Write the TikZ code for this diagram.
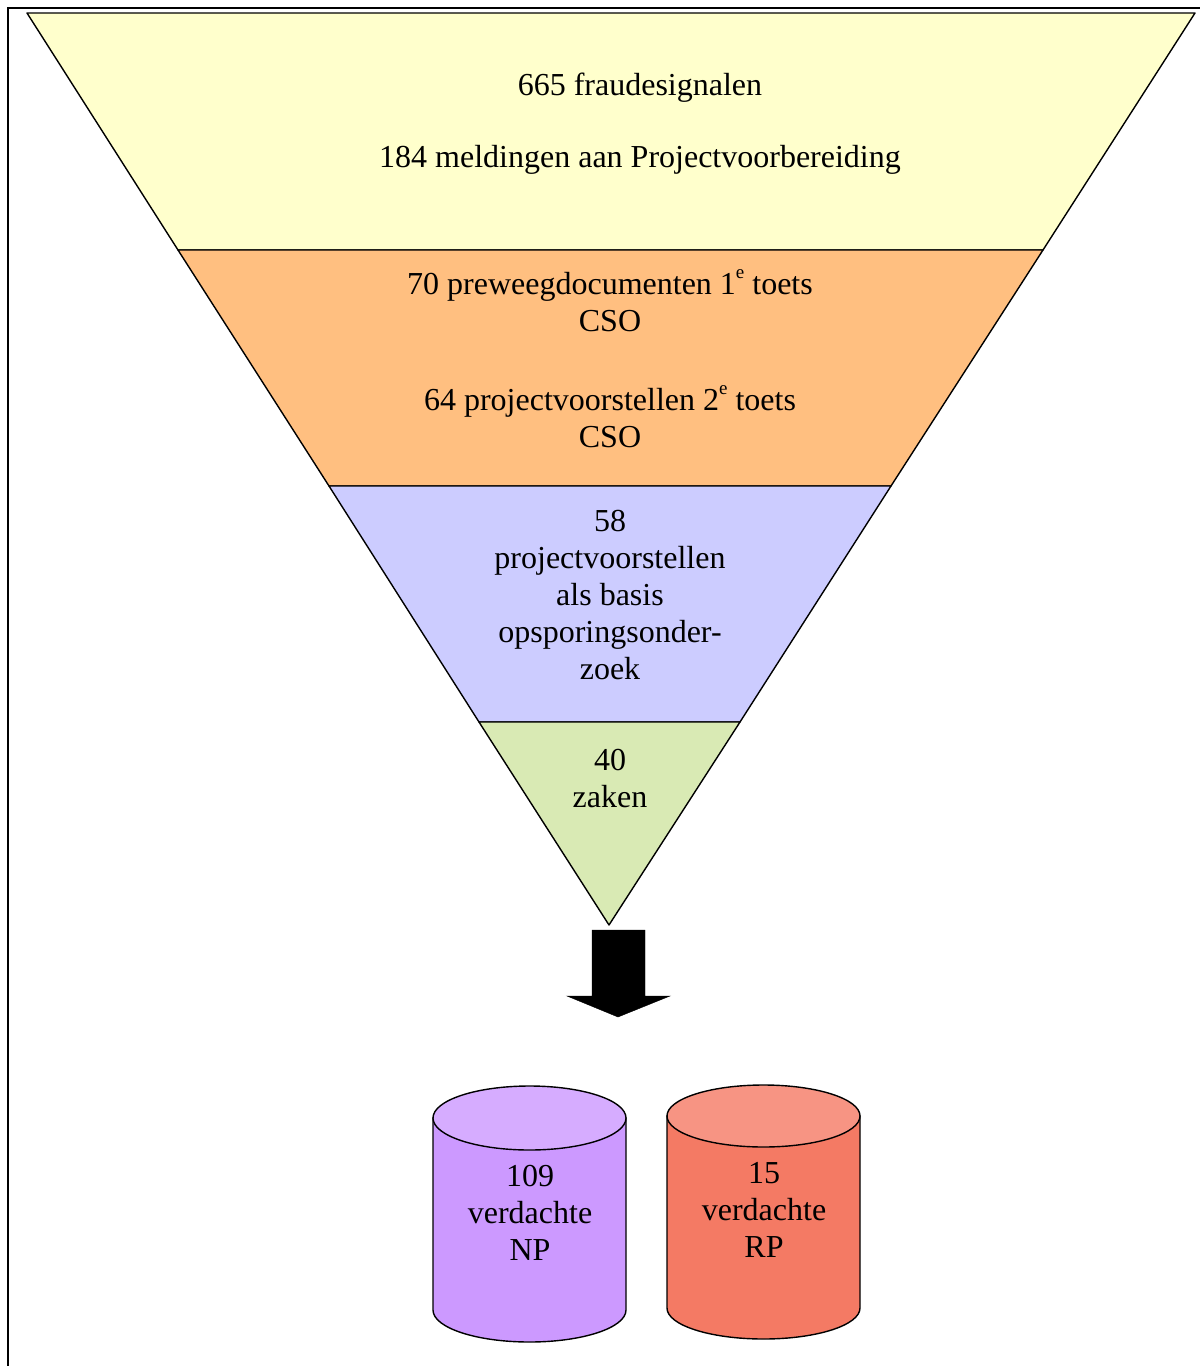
\documentclass[tikz,border=0pt]{standalone}
\usepackage{fontspec}
\setmainfont{Liberation Serif}
\usepackage{tikz}
\usetikzlibrary{positioning}
\definecolor{bandyellow}{HTML}{FFFFCC}
\definecolor{bandorange}{HTML}{FFBF80}
\definecolor{bandblue}{HTML}{CCCCFF}
\definecolor{bandgreen}{HTML}{D9EAB4}
\definecolor{npside}{HTML}{CC99FF}
\definecolor{nptop}{HTML}{D6ACFF}
\definecolor{rpside}{HTML}{F47A64}
\definecolor{rptop}{HTML}{F79483}
\newcommand{\ordsup}[1]{\raisebox{0.5em}{\fontsize{19}{19}\selectfont #1}}
\tikzset{
  band/.style={draw=black,line width=1.4pt,line join=round},
  bandtext/.style={inner sep=0pt,align=center,font=\fontsize{32}{37}\selectfont},
  drum/.style={draw=black,line width=1.4pt}
}
\begin{document}
\begin{tikzpicture}[x=1pt,y=1pt,yscale=-1]
\useasboundingbox (0,0) rectangle (1200,1366);
\draw [black,line width=2.8pt](8,1366)--(8,8)--(1200,8);

% funnel
\coordinate (tl) at (27,13);
\coordinate (tr) at (1195,13);
\coordinate (l1) at (178,250);
\coordinate (r1) at (1043,250);
\coordinate (l2) at (329,486);
\coordinate (r2) at (891,486);
\coordinate (l3) at (479,722);
\coordinate (r3) at (740,722);
\coordinate (tip) at (609,925);

\filldraw [band,fill=bandyellow](tl)--(tr)--(r1)--(l1)--cycle;
\filldraw [band,fill=bandorange](l1)--(r1)--(r2)--(l2)--cycle;
\filldraw [band,fill=bandblue](l2)--(r2)--(r3)--(l3)--cycle;
\filldraw [band,fill=bandgreen](l3)--(r3)--(tip)--cycle;

\node[bandtext] (signalen) at (640,124) {665 fraudesignalen\\[35pt]184 meldingen aan Projectvoorbereiding};
\node[bandtext] (toetsen) at (610,359) {70 preweegdocumenten 1\ordsup{e} toets\\CSO\\[42pt]64 projectvoorstellen 2\ordsup{e} toets\\CSO};
\node[bandtext] (basis) at (610,595) {58\\projectvoorstellen\\als basis\\opsporingsonder-\\zoek};
\node[bandtext] (zaken) at (610,779) {40\\zaken};

% block arrow
\filldraw [black](592,930)--(645,930)--(645,996)--(670,996)--(618,1017)--(567,996)--(592,996)--cycle;

% cylinders
\filldraw [drum,fill=npside](433,1118)--(433,1310) arc (180:0:96.5 and 32)--(626,1118)--cycle;
\filldraw [drum,fill=nptop](529.5,1118) ellipse (96.5 and 32);
\filldraw [drum,fill=rpside](667,1116)--(667,1308) arc (180:0:96.5 and 31)--(860,1116)--cycle;
\filldraw [drum,fill=rptop](763.5,1116) ellipse (96.5 and 31);

\node[bandtext] (np) at (530,1213) {109\\verdachte\\NP};
\node[bandtext] (rp) at (764,1210) {15\\verdachte\\RP};
\end{tikzpicture}
\end{document}
